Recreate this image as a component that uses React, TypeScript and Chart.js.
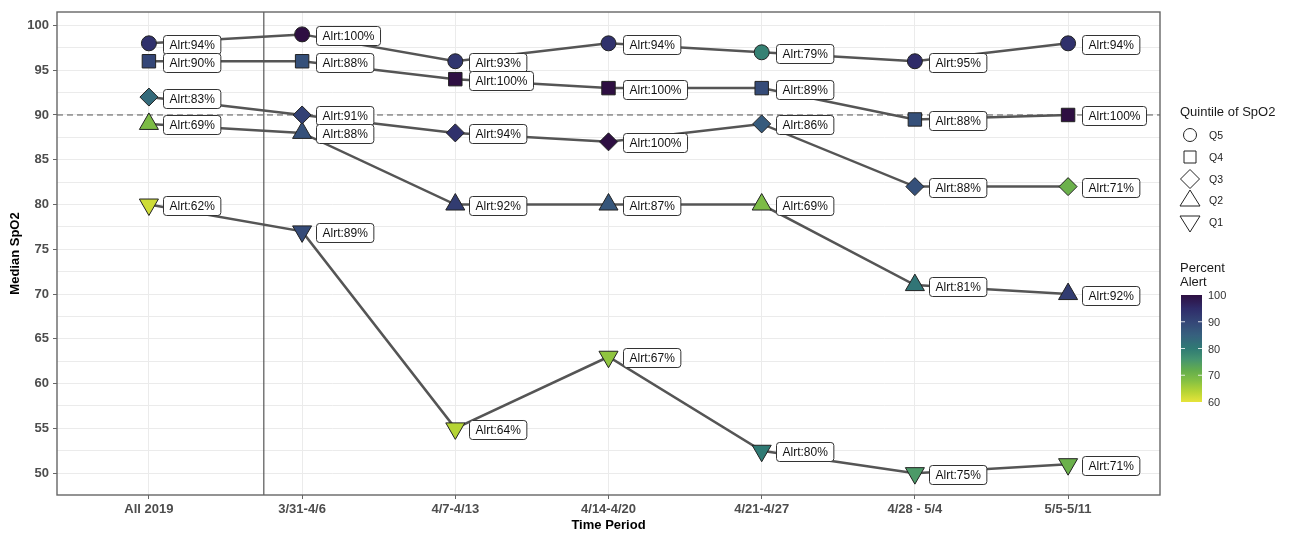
import React, { useEffect, useRef } from "react";
import { Chart, registerables } from "chart.js";

Chart.register(...registerables);

const categories = ["All 2019", "3/31-4/6", "4/7-4/13", "4/14-4/20", "4/21-4/27", "4/28 - 5/4", "5/5-5/11"];

const q5Values = [98, 99, 96, 98, 97, 96, 98];
const q5Alert = [94, 100, 93, 94, 79, 95, 94];
const q4Values = [96, 96, 94, 93, 93, 89.5, 90];
const q4Alert = [90, 88, 100, 100, 89, 88, 100];
const q3Values = [92, 90, 88, 87, 89, 82, 82];
const q3Alert = [83, 91, 94, 100, 86, 88, 71];
const q2Values = [89, 88, 80, 80, 80, 71, 70];
const q2Alert = [69, 88, 92, 87, 69, 81, 92];
const q1Values = [80, 77, 55, 63, 52.5, 50, 51];
const q1Alert = [62, 89, 64, 67, 80, 75, 71];

const quintileNames = ["Q5", "Q4", "Q3", "Q2", "Q1"];
const colorbarTicks = [100, 90, 80, 70, 60];
const referenceLineY = 90;
const separatorX = 0.75;

// colour ramp (value -> colour), a muted viridis as seen in the reference
const RAMP_VALUES = [100, 95, 90, 85, 80, 76, 72, 68, 64, 60];
const RAMP_COLORS = ["#2E0F42", "#2F2C69", "#344677", "#37607E", "#2F7A74", "#459470", "#62AC4E", "#84C043", "#B5D435", "#E6E43A"];

function hexToRgb(h: string) {
  const n = parseInt(h.slice(1), 16);
  return [(n >> 16) & 255, (n >> 8) & 255, n & 255];
}
function alertColor(v: number) {
  const vv = Math.max(60, Math.min(100, v));
  let i = 0;
  while (i < RAMP_VALUES.length - 2 && vv < RAMP_VALUES[i + 1]) i++;
  const f = (RAMP_VALUES[i] - vv) / (RAMP_VALUES[i] - RAMP_VALUES[i + 1]);
  const a = hexToRgb(RAMP_COLORS[i]);
  const b = hexToRgb(RAMP_COLORS[i + 1]);
  const c = a.map((x, k) => Math.round(x + (b[k] - x) * f));
  return `rgb(${c[0]},${c[1]},${c[2]})`;
}

const series = [
  { name: "Q5", values: q5Values, alert: q5Alert, style: "circle", radius: 7.5, rotation: 0 },
  { name: "Q4", values: q4Values, alert: q4Alert, style: "rect", radius: 9.5, rotation: 0 },
  { name: "Q3", values: q3Values, alert: q3Alert, style: "rectRot", radius: 9, rotation: 0 },
  { name: "Q2", values: q2Values, alert: q2Alert, style: "triangle", radius: 11, rotation: 0 },
  { name: "Q1", values: q1Values, alert: q1Alert, style: "triangle", radius: 11, rotation: 180 },
];

const FONT = "'Liberation Sans', Arial, sans-serif";

function roundRect(ctx: CanvasRenderingContext2D, x: number, y: number, w: number, h: number, r: number) {
  ctx.beginPath();
  ctx.moveTo(x + r, y);
  ctx.lineTo(x + w - r, y);
  ctx.arcTo(x + w, y, x + w, y + r, r);
  ctx.lineTo(x + w, y + h - r);
  ctx.arcTo(x + w, y + h, x + w - r, y + h, r);
  ctx.lineTo(x + r, y + h);
  ctx.arcTo(x, y + h, x, y + h - r, r);
  ctx.lineTo(x, y + r);
  ctx.arcTo(x, y, x + r, y, r);
  ctx.closePath();
}

const decorPlugin = {
  id: "decor",
  beforeDatasetsDraw(chart: any) {
    const ctx = chart.ctx as CanvasRenderingContext2D;
    const { left, right, top, bottom } = chart.chartArea;
    const xs = chart.scales.x;
    const ys = chart.scales.y;
    ctx.save();
    ctx.strokeStyle = "#555";
    ctx.lineWidth = 1;
    ctx.setLineDash([6, 4]);
    const yy = ys.getPixelForValue(referenceLineY);
    ctx.beginPath();
    ctx.moveTo(left, yy);
    ctx.lineTo(right, yy);
    ctx.stroke();
    ctx.setLineDash([]);
    const xx = xs.getPixelForValue(separatorX);
    ctx.strokeStyle = "#555";
    ctx.lineWidth = 1.2;
    ctx.beginPath();
    ctx.moveTo(xx, top);
    ctx.lineTo(xx, bottom);
    ctx.stroke();
    ctx.restore();
  },
  afterDatasetsDraw(chart: any) {
    const ctx = chart.ctx as CanvasRenderingContext2D;
    const xs = chart.scales.x;
    const ys = chart.scales.y;
    ctx.save();
    ctx.font = `12px ${FONT}`;
    ctx.textBaseline = "middle";
    ctx.textAlign = "left";
    series.forEach((s) => {
      s.values.forEach((v, j) => {
        const px = xs.getPixelForValue(j);
        const py = ys.getPixelForValue(v);
        const txt = `Alrt:${s.alert[j]}%`;
        const w = ctx.measureText(txt).width + 12;
        const h = 19;
        const bx = Math.round(px + 14) + 0.5;
        const by = Math.round(py - h / 2 + 1) + 0.5;
        roundRect(ctx, bx, by, w, h, 3);
        ctx.fillStyle = "#fff";
        ctx.fill();
        ctx.strokeStyle = "#333";
        ctx.lineWidth = 1;
        ctx.stroke();
        ctx.fillStyle = "#111";
        ctx.fillText(txt, bx + 6, by + h / 2 + 0.5);
      });
    });
    ctx.restore();
  },
  afterDraw(chart: any) {
    const ctx = chart.ctx as CanvasRenderingContext2D;
    const { left, right, top, bottom } = chart.chartArea;
    ctx.save();
    ctx.strokeStyle = "#666";
    ctx.lineWidth = 1.4;
    ctx.strokeRect(left, top, right - left, bottom - top);

    ctx.fillStyle = "#000";
    ctx.font = `bold 13px ${FONT}`;
    ctx.textAlign = "center";
    ctx.textBaseline = "middle";
    ctx.fillText("Time Period", (left + right) / 2, 525);
    ctx.save();
    ctx.translate(15, (top + bottom) / 2);
    ctx.rotate(-Math.PI / 2);
    ctx.fillText("Median SpO2", 0, 0);
    ctx.restore();

    ctx.font = `13px ${FONT}`;
    ctx.textAlign = "left";
    ctx.fillStyle = "#1a1a1a";
    ctx.fillText("Quintile of SpO2", 1180, 112);
    const ly = [135, 157, 179, 200, 222];
    const sx = 1190;
    ctx.strokeStyle = "#222";
    ctx.lineWidth = 1;
    quintileNames.forEach((nm, i) => {
      const y = ly[i];
      ctx.beginPath();
      if (i === 0) {
        ctx.arc(sx, y, 6.5, 0, Math.PI * 2);
      } else if (i === 1) {
        ctx.rect(sx - 6, y - 6, 12, 12);
      } else if (i === 2) {
        ctx.moveTo(sx, y - 9.5);
        ctx.lineTo(sx + 9.5, y);
        ctx.lineTo(sx, y + 9.5);
        ctx.lineTo(sx - 9.5, y);
        ctx.closePath();
      } else if (i === 3) {
        ctx.moveTo(sx, y - 10);
        ctx.lineTo(sx + 10, y + 6);
        ctx.lineTo(sx - 10, y + 6);
        ctx.closePath();
      } else {
        ctx.moveTo(sx, y + 10);
        ctx.lineTo(sx + 10, y - 6);
        ctx.lineTo(sx - 10, y - 6);
        ctx.closePath();
      }
      ctx.stroke();
      ctx.font = `10.5px ${FONT}`;
      ctx.fillStyle = "#1a1a1a";
      ctx.fillText(nm, 1209, y + 1);
    });

    ctx.font = `13px ${FONT}`;
    ctx.fillStyle = "#1a1a1a";
    ctx.fillText("Percent", 1180, 268);
    ctx.fillText("Alert", 1180, 282);
    const cbX = 1181, cbW = 21, cbTop = 295, cbBot = 402;
    const grad = ctx.createLinearGradient(0, cbTop, 0, cbBot);
    for (let k = 0; k <= 40; k++) {
      const v = 100 - k;
      grad.addColorStop(k / 40, alertColor(v));
    }
    ctx.fillStyle = grad;
    ctx.fillRect(cbX, cbTop, cbW, cbBot - cbTop);
    ctx.font = `11px ${FONT}`;
    colorbarTicks.forEach((t) => {
      const y = cbTop + ((100 - t) / 40) * (cbBot - cbTop);
      if (t !== 100 && t !== 60) {
        ctx.strokeStyle = "rgba(255,255,255,0.8)";
        ctx.lineWidth = 1;
        ctx.beginPath();
        ctx.moveTo(cbX, y);
        ctx.lineTo(cbX + 4, y);
        ctx.moveTo(cbX + cbW - 4, y);
        ctx.lineTo(cbX + cbW, y);
        ctx.stroke();
      }
      ctx.fillStyle = "#333";
      ctx.fillText(String(t), 1208, y + 1);
    });
    ctx.restore();
  },
};

export default function App() {
  const ref = useRef<HTMLCanvasElement | null>(null);
  useEffect(() => {
    document.body.style.margin = "0";
    if (!ref.current) return;
    const lineSets = series.map((s) => ({
      type: "scatter" as const,
      label: s.name + " line",
      data: s.values.map((v, j) => ({ x: j, y: v })),
      showLine: true,
      borderColor: "#555",
      borderWidth: 2.5,
      pointRadius: 0,
      order: 2,
    }));
    const pointSets = series.map((s) => ({
      type: "scatter" as const,
      label: s.name,
      data: s.values.map((v, j) => ({ x: j, y: v })),
      showLine: false,
      pointStyle: s.style,
      pointRadius: s.radius,
      pointRotation: s.rotation,
      pointBackgroundColor: s.alert.map((a) => alertColor(a)),
      pointBorderColor: "#222",
      pointBorderWidth: 1,
      order: 1,
    }));
    const chart = new Chart(ref.current, {
      type: "scatter",
      data: { datasets: [...lineSets, ...pointSets] as any },
      options: {
        animation: false,
        responsive: true,
        maintainAspectRatio: false,
        layout: { padding: { top: 9, right: 134, left: 0, bottom: 0 } },
        plugins: { legend: { display: false }, tooltip: { enabled: false } },
        events: [],
        scales: {
          x: {
            type: "linear",
            min: -0.6,
            max: 6.6,
            afterFit(scale: any) {
              scale.height = 39;
              scale.paddingLeft = 0;
              scale.paddingRight = 0;
            },
            ticks: {
              stepSize: 1,
              includeBounds: false,
              autoSkip: false,
              maxRotation: 0,
              padding: 3,
              color: "#4D4D4D",
              font: { family: FONT, size: 13, weight: "bold" },
              callback: (v: any) => categories[Number(v)] ?? "",
            },
            grid: { color: "#EBEBEB", lineWidth: 1, tickLength: 4, tickColor: "#666" },
            border: { display: false },
          },
          y: {
            type: "linear",
            min: 47.56,
            max: 101.5,
            afterFit(scale: any) {
              scale.width = 57;
              scale.paddingTop = 0;
              scale.paddingBottom = 0;
            },
            ticks: {
              stepSize: 2.5,
              includeBounds: false,
              autoSkip: false,
              padding: 4,
              color: "#4D4D4D",
              font: { family: FONT, size: 13, weight: "bold" },
              callback: (v: any) => (Number(v) % 5 === 0 ? String(v) : ""),
            },
            grid: {
              color: "#EBEBEB",
              lineWidth: 1,
              tickLength: 4,
              tickColor: (c: any) => (c.tick && c.tick.value % 5 === 0 ? "#666" : "rgba(0,0,0,0)"),
            },
            border: { display: false },
          },
        },
      } as any,
      plugins: [decorPlugin],
    });
    return () => chart.destroy();
  }, []);
  return (
    <div style={{ width: 1294, height: 534, position: "relative" }}>
      <canvas ref={ref} />
    </div>
  );
}
